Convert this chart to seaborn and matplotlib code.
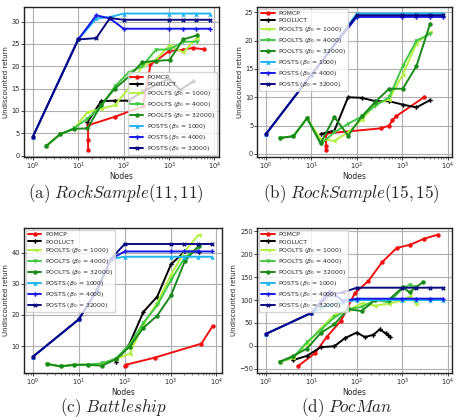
import matplotlib
matplotlib.use("Agg")
import matplotlib.pyplot as plt
import seaborn as sns

# ---- data (x = nodes, y = undiscounted return) ----
poolts_nodes = [2, 4, 8, 16, 32, 64, 128, 256, 512, 1024, 2048, 4096]
posts_nodes = [1, 10, 25, 50, 100, 1000, 2000, 4000, 8000]

# (a) RockSample(11,11)
a_pomcp_x = [16.5, 16.5, 16.5, 64, 265, 390, 512, 1000, 2000, 3300, 6000]
a_pomcp_y = [1.3, 3.5, 6.8, 8.7, 11.0, 20.4, 21.2, 23.4, 23.7, 24.1, 23.8]
a_pooluct_x = [16, 32, 64, 128, 256, 1000, 1750, 3400]
a_pooluct_y = [7.5, 12.2, 12.3, 12.3, 14.3, 17.2, 14.7, 16.6]
a_poolts_1000 = [2.2, 4.8, 6.0, 9.7, 10.5, 11.3, 15.0, 20.0, 21.5, 24.7, 23.1, 26.3]
a_poolts_4000 = [2.2, 4.8, 6.1, 8.3, 11.0, 15.5, 18.6, 20.0, 23.7, 23.8, 25.5, 25.5]
a_poolts_32000 = [2.2, 4.8, 6.0, 6.1, 11.4, 15.0, 17.6, 20.9, 21.2, 21.4, 26.0, 26.9]
a_posts_1000 = [4.2, 26.0, 30.7, 31.0, 31.8, 31.8, 31.8, 31.8, 31.8]
a_posts_4000 = [4.2, 26.0, 31.4, 30.7, 28.4, 28.4, 28.4, 28.4, 28.4]
a_posts_32000 = [4.2, 26.0, 26.3, 30.8, 30.4, 30.4, 30.4, 30.4, 30.4]

# (b) RockSample(15,15)
b_pomcp_x = [21, 21, 21, 340, 512, 600, 720, 3000]
b_pomcp_y = [0.7, 1.4, 3.6, 4.5, 5.0, 5.9, 6.6, 10.0]
b_pooluct_x = [16, 32, 64, 128, 256, 512, 1024, 2048, 4096]
b_pooluct_y = [3.5, 4.1, 10.0, 9.9, 9.3, 9.3, 8.7, 8.2, 9.5]
b_poolts_1000 = [2.8, 3.1, 6.3, 2.6, 2.3, 3.8, 6.0, 8.8, 9.6, 14.0, 19.5, 21.5]
b_poolts_4000 = [2.8, 3.1, 6.3, 1.7, 3.8, 5.3, 6.6, 8.5, 10.0, 15.5, 20.0, 21.2]
b_poolts_32000 = [2.8, 3.1, 6.3, 1.9, 6.5, 3.2, 6.6, 9.2, 11.5, 11.5, 15.5, 23.0]
b_posts_x = [1, 10, 100, 1000, 2000, 4000, 8000]
b_posts_1000 = [3.5, 14.0, 24.8, 24.8, 24.8, 24.8, 24.8]
b_posts_4000 = [3.5, 14.0, 24.2, 24.2, 24.2, 24.2, 24.2]
b_posts_32000 = [3.5, 14.0, 24.5, 24.5, 24.5, 24.5, 24.5]

# (c) Battleship
c_pomcp_x = [100, 105, 450, 4700, 8300]
c_pomcp_y = [3.5, 4.0, 6.3, 10.8, 16.5]
c_pooluct_x = [64, 128, 256, 512, 1024, 2048, 4096]
c_pooluct_y = [5.0, 10.8, 21.0, 25.9, 36.3, 40.4, 40.3]
c_poolts_1000 = [4.3, 3.5, 4.0, 4.0, 4.2, 5.8, 7.6, 17.0, 24.0, 33.0, 40.5, 45.8]
c_poolts_4000 = [4.3, 3.5, 4.0, 4.1, 4.5, 6.0, 10.5, 17.5, 23.1, 31.2, 38.5, 41.7]
c_poolts_32000 = [4.3, 3.5, 4.0, 4.0, 3.7, 5.8, 9.8, 15.9, 19.8, 26.3, 37.3, 42.2]
c_posts_1000 = [6.6, 18.6, 28.0, 38.0, 38.7, 38.7, 38.7, 38.7, 38.7]
c_posts_4000 = [6.6, 18.6, 28.0, 38.0, 40.4, 40.4, 40.4, 40.4, 40.4]
c_posts_32000 = [6.6, 18.6, 28.0, 38.0, 42.8, 42.8, 42.8, 42.8, 42.8]

# (d) PocMan
d_pomcp_x = [5, 12, 22, 45, 90, 180, 360, 760, 1500, 3000, 6000]
d_pomcp_y = [-45, -16, 20, 55, 115, 142, 183, 214, 221, 234, 243]
d_pooluct_x = [4, 8, 16, 32, 55, 100, 150, 230, 320, 430, 480, 550]
d_pooluct_y = [-31, -22, -3, -1, 17, 29, 19, 24, 36, 27, 24, 20]
d_poolts_x = [2, 4, 8, 16, 32, 64, 128, 256, 512, 1024, 1448, 2048]
d_poolts_x32 = [2, 4, 8, 16, 32, 64, 128, 256, 512, 1024, 1448, 2896]
d_poolts_1000 = [-35, -27, 5, 38, 68, 78, 93, 88, 92, 100, 108, 91]
d_poolts_4000 = [-35, -25, 8, 35, 62, 80, 85, 100, 95, 126, 133, 128]
d_poolts_32000 = [-35, -22, -6, 28, 47, 80, 76, 101, 101, 128, 117, 140]
d_posts_1000 = [26, 72, 90, 95, 100, 100, 100, 100, 100]
d_posts_4000 = [26, 72, 120, 98, 103, 103, 103, 103, 103]
d_posts_32000 = [26, 72, 112, 117, 127, 127, 127, 127, 127]

labels = ["POMCP", "POOLUCT",
          r"POOLTS ($\beta_0$ = 1000)", r"POOLTS ($\beta_0$ = 4000)", r"POOLTS ($\beta_0$ = 32000)",
          r"POSTS ($\beta_0$ = 1000)", r"POSTS ($\beta_0$ = 4000)", r"POSTS ($\beta_0$ = 32000)"]
colors = ["#f01010", "black", "#b4f040", "#44c844", "#1a8a1a", "#20b4f0", "#1818e8", "#0a0a80"]
markers = ["o", "P", "<", "v", "o", "^", "P", "X"]

panels = [
    ([(a_pomcp_x, a_pomcp_y), (a_pooluct_x, a_pooluct_y),
      (poolts_nodes, a_poolts_1000), (poolts_nodes, a_poolts_4000), (poolts_nodes, a_poolts_32000),
      (posts_nodes, a_posts_1000), (posts_nodes, a_posts_4000), (posts_nodes, a_posts_32000)],
     "lower right", r"$\mathrm{(a)}\ RockSample(11,11)$"),
    ([(b_pomcp_x, b_pomcp_y), (b_pooluct_x, b_pooluct_y),
      (poolts_nodes, b_poolts_1000), (poolts_nodes, b_poolts_4000), (poolts_nodes, b_poolts_32000),
      (b_posts_x, b_posts_1000), (b_posts_x, b_posts_4000), (b_posts_x, b_posts_32000)],
     "upper left", r"$\mathrm{(b)}\ RockSample(15,15)$"),
    ([(c_pomcp_x, c_pomcp_y), (c_pooluct_x, c_pooluct_y),
      (poolts_nodes, c_poolts_1000), (poolts_nodes, c_poolts_4000), (poolts_nodes, c_poolts_32000),
      (posts_nodes, c_posts_1000), (posts_nodes, c_posts_4000), (posts_nodes, c_posts_32000)],
     "upper left", r"$\mathrm{(c)}\ Battleship$"),
    ([(d_pomcp_x, d_pomcp_y), (d_pooluct_x, d_pooluct_y),
      (d_poolts_x, d_poolts_1000), (d_poolts_x, d_poolts_4000), (d_poolts_x32, d_poolts_32000),
      (posts_nodes, d_posts_1000), (posts_nodes, d_posts_4000), (posts_nodes, d_posts_32000)],
     "upper left", r"$\mathrm{(d)}\ PocMan$"),
]

sns.set_style("ticks")
plt.rcParams["mathtext.fontset"] = "dejavusans"

fig = plt.figure(figsize=(4.6, 4.2), dpi=100)
# axes rectangles (left, bottom, width, height) in figure fractions
rects = [(0.052, 0.627, 0.424, 0.357), (0.559, 0.627, 0.424, 0.357),
         (0.052, 0.112, 0.430, 0.345), (0.559, 0.112, 0.424, 0.345)]
captions_xy = [(0.252, 0.540), (0.763, 0.540), (0.246, 0.030), (0.754, 0.030)]

for (series, loc, caption), rect, cxy in zip(panels, rects, captions_xy):
    ax = fig.add_axes(rect)
    for (x, y), lab, col, mk in zip(series, labels, colors, markers):
        sns.lineplot(x=x, y=y, ax=ax, estimator=None, sort=False, color=col,
                     marker=mk, markersize=3.2, markeredgewidth=0, linewidth=1.4, label=lab)
    ax.set_xscale("log")
    ax.grid(True, which="major", color="#b0b0b0", linewidth=0.8)
    ax.set_xlabel("Nodes", fontsize=5.5, labelpad=0)
    ax.set_ylabel("Undiscounted return", fontsize=5, labelpad=1.5)
    ax.tick_params(labelsize=4.8, length=2, width=0.6, pad=0.8)
    ax.tick_params(which="minor", length=1.2, width=0.4)
    for s in ax.spines.values():
        s.set_color("#222222")
        s.set_linewidth(1.0)
    ax.legend(loc=loc, fontsize=4.4, framealpha=0.8, handlelength=2.2,
              borderpad=0.35, labelspacing=0.32, handletextpad=0.6, borderaxespad=0.3)
    fig.text(cxy[0], cxy[1], caption, ha="center", va="center", fontsize=12.3,
             math_fontfamily="cm")

fig.savefig("out.png", dpi=100)
